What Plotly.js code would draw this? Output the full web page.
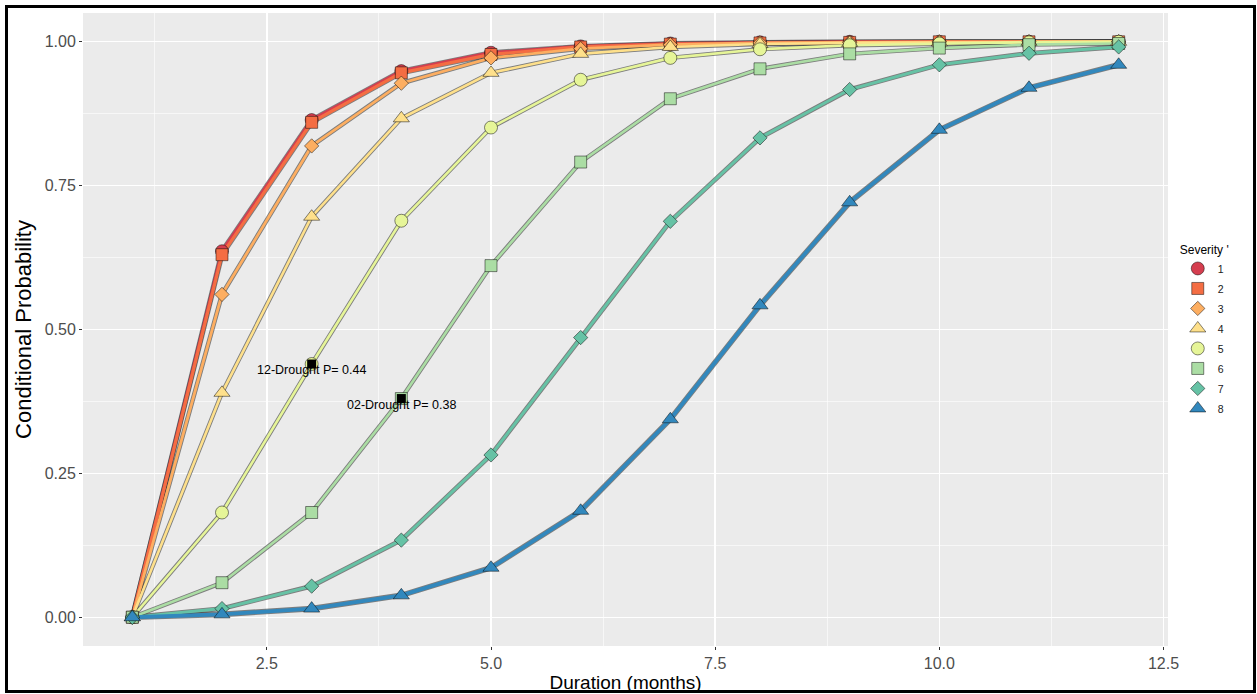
<!DOCTYPE html>
<html>
<head>
<meta charset="utf-8">
<script src="https://cdn.plot.ly/plotly-3.0.1.min.js"></script>
<style>
  html, body { margin: 0; padding: 0; background: #fff; }
  #chart { width: 1257px; height: 694px; position: absolute; left: 0; top: 0; }
  #frame { position: absolute; left: 5px; top: 5px; width: 1245px; height: 682px; border: 3px solid #000; pointer-events: none; }
</style>
</head>
<body>
<div id="chart"></div>
<div id="frame"></div>
<script>
// ---- data ----
const duration = [1, 2, 3, 4, 5, 6, 7, 8, 9, 10, 11, 12];
const severityLabels = ['1', '2', '3', '4', '5', '6', '7', '8'];
const sev1 = [0, 0.636, 0.864, 0.949, 0.981, 0.992, 0.997, 0.999, 1.000, 1.000, 1.000, 1.000];
const sev2 = [0, 0.630, 0.860, 0.946, 0.978, 0.991, 0.996, 0.998, 0.999, 1.000, 1.000, 1.000];
const sev3 = [0, 0.561, 0.819, 0.928, 0.972, 0.988, 0.995, 0.998, 0.999, 1.000, 1.000, 1.000];
const sev4 = [0, 0.390, 0.696, 0.867, 0.946, 0.979, 0.991, 0.996, 0.998, 0.999, 1.000, 1.000];
const sev5 = [0, 0.182, 0.440, 0.689, 0.851, 0.934, 0.972, 0.987, 0.994, 0.997, 0.999, 1.000];
const sev6 = [0, 0.060, 0.182, 0.380, 0.611, 0.791, 0.901, 0.953, 0.979, 0.989, 0.995, 0.997];
const sev7 = [0, 0.015, 0.054, 0.134, 0.282, 0.486, 0.688, 0.833, 0.917, 0.960, 0.980, 0.991];
const sev8 = [0, 0.005, 0.015, 0.038, 0.086, 0.185, 0.344, 0.542, 0.721, 0.847, 0.920, 0.960];
const series = [sev1, sev2, sev3, sev4, sev5, sev6, sev7, sev8];

const eventX = [3, 4];
const eventY = [0.44, 0.38];
const eventText = ['12-Drought P= 0.44', '02-Drought P= 0.38'];

// ---- styles ----
const colors = ['#D53E4F', '#F46D43', '#FDAE61', '#FEE08B', '#E6F598', '#ABDDA4', '#66C2A5', '#3288BD'];
const symbols = ['circle', 'square', 'diamond', 'triangle-up', 'circle', 'square', 'diamond', 'triangle-up'];
const symSize = {'circle': 13, 'square': 12, 'diamond': 11, 'triangle-up': 14};
const lineW = [3.2, 3.2, 2.8, 2.6, 2.6, 2.6, 3.0, 3.8];

const traces = [];
// outlines
series.forEach((ys, i) => {
  traces.push({
    x: duration, y: ys, type: 'scatter', mode: 'lines',
    line: {color: 'rgba(35,35,35,0.55)', width: lineW[i] + 1.8},
    legendgroup: 'g' + i, showlegend: false, hoverinfo: 'skip'
  });
});
// coloured lines
series.forEach((ys, i) => {
  traces.push({
    x: duration, y: ys, type: 'scatter', mode: 'lines',
    line: {color: colors[i], width: lineW[i]},
    legendgroup: 'g' + i, showlegend: false, hoverinfo: 'skip'
  });
});
// markers
series.forEach((ys, i) => {
  traces.push({
    x: duration, y: ys, type: 'scatter', mode: 'markers',
    name: severityLabels[i], legendgroup: 'g' + i,
    marker: {symbol: symbols[i], size: symSize[symbols[i]], color: colors[i],
             line: {color: 'rgba(0,0,0,0.6)', width: 0.8}}
  });
});
// highlighted events
traces.push({
  x: eventX, y: eventY, type: 'scatter', mode: 'markers', showlegend: false,
  marker: {symbol: 'square', size: 9, color: '#000'}
});

const fontFam = 'Arial, "Liberation Sans", Helvetica, sans-serif';

const layout = {
  width: 1257, height: 694,
  margin: {l: 83, r: 89, t: 13, b: 48},
  paper_bgcolor: '#ffffff',
  plot_bgcolor: '#EBEBEB',
  font: {family: fontFam, color: '#000'},
  showlegend: true,
  xaxis: {
    range: [0.45, 12.55], tick0: 0, dtick: 2.5, tickformat: '.1f',
    showgrid: true, gridcolor: '#ffffff', gridwidth: 1.4,
    minor: {tick0: 0, dtick: 1.25, showgrid: true, gridcolor: '#ffffff', gridwidth: 0.6},
    zeroline: false, showline: false,
    ticks: 'outside', ticklen: 3, tickcolor: '#333333', tickwidth: 1,
    tickfont: {size: 16, color: '#4D4D4D', family: fontFam},
    title: {text: 'Duration (months)', font: {size: 19, color: '#000', family: fontFam}, standoff: 4}
  },
  yaxis: {
    range: [-0.05, 1.05], tick0: 0, dtick: 0.25, tickformat: '.2f',
    showgrid: true, gridcolor: '#ffffff', gridwidth: 1.4,
    minor: {tick0: 0, dtick: 0.125, showgrid: true, gridcolor: '#ffffff', gridwidth: 0.6},
    zeroline: false, showline: false,
    ticks: 'outside', ticklen: 3, tickcolor: '#333333', tickwidth: 1,
    tickfont: {size: 16, color: '#4D4D4D', family: fontFam},
    title: {text: 'Conditional Probability', font: {size: 22, color: '#000', family: fontFam}, standoff: 6}
  },
  legend: {
    x: 1.009, xanchor: 'left', y: 0.644, yanchor: 'top',
    bgcolor: 'rgba(0,0,0,0)',
    font: {size: 10.5, color: '#1a1a1a', family: fontFam},
    title: {text: "Severity '", font: {size: 12, color: '#000', family: fontFam}},
    traceorder: 'grouped', tracegroupgap: 1, itemwidth: 30
  },
  annotations: eventX.map((xv, k) => ({
    x: xv, y: eventY[k], xref: 'x', yref: 'y', text: eventText[k],
    showarrow: false, yshift: -6,
    font: {size: 12.5, color: '#000', family: fontFam}
  }))
};

Plotly.newPlot('chart', traces, layout, {displayModeBar: false, staticPlot: true});
</script>
</body>
</html>
